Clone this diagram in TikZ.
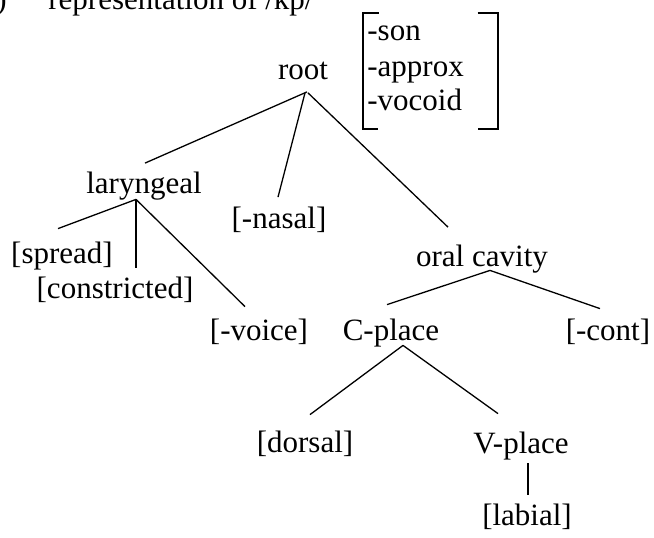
\documentclass[tikz,border=0pt]{standalone}
\usepackage{fontspec}
\setmainfont{Liberation Serif}
\usetikzlibrary{calc,fit}
\tikzset{feat/.style={anchor=base,inner sep=0pt,font=\fontsize{15.5}{18}\selectfont,
    text height=11.25pt,text depth=3.75pt},
  branch/.style={line width=.65pt},
  brack/.style={line width=.9pt}}

\begin{document}
\begin{tikzpicture}[x=0.5pt,y=-0.5pt]
\useasboundingbox (0,0) rectangle (654,537);
% caption line, cut by the top edge
\node[feat,anchor=base east] (num) at (7,9) {)};
\node[feat,anchor=base west] (cap) at (48,9) {representation of /kp/};
% tree
\node[feat] (root) at (303,79) {root};
\node[feat] (lar) at (144,193) {laryngeal};
\node[feat] (nasal) at (279,228) {[-nasal]};
\node[feat] (oral) at (482,266) {oral cavity};
\node[feat] (spread) at (62,263) {[spread]};
\node[feat] (constr) at (115,298) {[constricted]};
\node[feat] (voice) at (259,340) {[-voice]};
\node[feat] (cplace) at (391,340) {C-place};
\node[feat] (cont) at (608,340) {[-cont]};
\node[feat] (dorsal) at (305,452) {[dorsal]};
\node[feat] (vplace) at (521,453) {V-place};
\node[feat] (labial) at (527,525) {[labial]};
% feature matrix of the root
\node[feat,anchor=base west] (son) at (367,40) {-son};
\node[feat,anchor=base west] (approx) at (367,76) {-approx};
\node[feat,anchor=base west] (vocoid) at (367,110) {-vocoid};
\node[fit=(son)(approx)(vocoid),inner sep=0pt] (mat) {};
\draw[brack] ($(mat.north west)+(12,-3.5)$) -- ++(-16,0) |- ($(mat.south west)+(11,10.5)$);
\draw[brack] ($(mat.north west)+(111,-3.5)$) -- ++(20,0) |- ($(mat.south west)+(111,10.5)$);
% branches
\draw[branch] ($(root.south)+(4,5)$) -- ($(lar.north)+(1,-7)$);
\draw[branch] ($(root.south)+(2,6)$) -- ($(nasal.north)+(-1,-8)$);
\draw[branch] ($(root.south)+(5,6)$) -- ($(oral.north)+(-34,-16)$);
\draw[branch] ($(lar.south)+(-8,-1.5)$) -- ($(spread.north)+(-4,-11.5)$);
\draw[branch] ($(lar.south)+(-8,-1)$) -- ($(constr.north)+(21,-7.5)$);
\draw[branch] ($(lar.south)+(-8,-1.5)$) -- ($(voice.north)+(-14,-10.5)$);
\draw[branch] ($(oral.south)+(8,-3.5)$) -- ($(cplace.north)+(-4,-12.5)$);
\draw[branch] ($(oral.south)+(8,-3.5)$) -- ($(cont.north)+(-8,-8.5)$);
\draw[branch] ($(cplace.south)+(12,-2.5)$) -- ($(dorsal.north)+(5,-14.5)$);
\draw[branch] ($(cplace.south)+(12,-2.5)$) -- ($(vplace.north)+(-23,-16.5)$);
\draw[line width=1.4pt] ($(vplace.south)+(7,2.5)$) -- ($(labial.north)+(1,-7.5)$);
\end{tikzpicture}
\end{document}
